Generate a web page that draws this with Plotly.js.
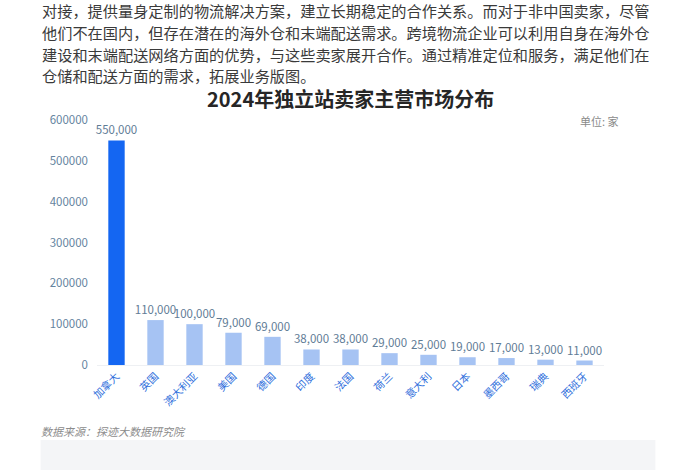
<!DOCTYPE html>
<html>
<head>
<meta charset="utf-8">
<script src="https://cdn.plot.ly/plotly-3.0.1.min.js"></script>
<style>
  html, body { margin: 0; padding: 0; background: #ffffff; }
  #chart { width: 700px; height: 470px; }
</style>
</head>
<body>
<div id="chart"></div>
<script>
const categories = ['加拿大', '英国', '澳大利亚', '美国', '德国', '印度', '法国', '荷兰', '意大利', '日本', '墨西哥', '瑞典', '西班牙'];
const sellers = [550000, 110000, 100000, 79000, 69000, 38000, 38000, 29000, 25000, 19000, 17000, 13000, 11000];
const yTicks = [0, 100000, 200000, 300000, 400000, 500000, 600000];
const paragraphLines = [
  '对接，提供量身定制的物流解决方案，建立长期稳定的合作关系。而对于非中国卖家，尽管',
  '他们不在国内，但存在潜在的海外仓和末端配送需求。跨境物流企业可以利用自身在海外仓',
  '建设和末端配送网络方面的优势，与这些卖家展开合作。通过精准定位和服务，满足他们在',
  '仓储和配送方面的需求，拓展业务版图。'
];
const chartTitle = '2024年独立站卖家主营市场分布';
const unitText = '单位: 家';
const sourceText = '数据来源：探迹大数据研究院';

const W = 700, H = 470;
const mL = 96.5, mR = 95.5, mT = 120, mB = 105;
const plotW = W - mL - mR, plotH = H - mT - mB;
const px = p => (p - mL) / plotW;
const py = p => (H - mB - p) / plotH;

const font = '"Noto Sans CJK SC", "Noto Sans", sans-serif';

const barColors = sellers.map((v, i) => i === 0 ? '#1466f2' : '#a6c3f3');

const annotations = [];
const lineY = [10.5, 32, 53.5, 75];
paragraphLines.forEach((t, i) => {
  annotations.push({
    text: t, xref: 'paper', yref: 'paper', x: px(40), y: py(lineY[i]),
    xanchor: 'left', yanchor: 'middle', showarrow: false, borderpad: 0,
    font: {family: font, size: 15.2, color: '#3a3a3a'}
  });
});
annotations.push({
  text: '<b>' + chartTitle + '</b>', xref: 'paper', yref: 'paper', x: px(350), y: py(98),
  xanchor: 'center', yanchor: 'middle', showarrow: false,
  font: {family: font, size: 20, color: '#262626'}
});
annotations.push({
  text: unitText, xref: 'paper', yref: 'paper', x: px(600), y: py(121),
  xanchor: 'center', yanchor: 'middle', showarrow: false,
  font: {family: font, size: 11, color: '#8a8a8a'}
});
annotations.push({
  text: '<i>' + sourceText + '</i>', xref: 'paper', yref: 'paper', x: px(38), y: py(431),
  xanchor: 'left', yanchor: 'middle', showarrow: false,
  font: {family: font, size: 11, color: '#8c8c8c'}
});

const data = [{
  type: 'bar',
  x: categories,
  y: sellers,
  marker: {color: barColors},
  width: 0.42,
  text: sellers,
  texttemplate: '%{y:,}',
  textposition: 'outside',
  constraintext: 'none',
  cliponaxis: false,
  textfont: {family: font, size: 11.5, color: '#5f7c96'},
  hoverinfo: 'x+y'
}];

const layout = {
  width: W, height: H,
  margin: {l: mL, r: mR, t: mT, b: mB, pad: 0},
  paper_bgcolor: '#ffffff',
  plot_bgcolor: '#ffffff',
  showlegend: false,
  font: {family: font},
  xaxis: {
    type: 'category',
    tickangle: -45,
    tickfont: {family: font, size: 10.5, color: '#2f6fdc'},
    showgrid: false, zeroline: false, showline: true, linecolor: '#eef0f3', linewidth: 1,
    ticks: ''
  },
  yaxis: {
    range: [0, 600000],
    tickvals: yTicks,
    ticktext: yTicks.map(v => String(v)),
    tickfont: {family: font, size: 11.5, color: '#6584a0'},
    showgrid: false, zeroline: false, showline: false,
    ticks: '', ticklabelstandoff: 8
  },
  shapes: [{
    type: 'rect', xref: 'paper', yref: 'paper',
    x0: px(40), x1: px(656), y0: py(470), y1: py(440),
    fillcolor: '#f4f5f7', line: {width: 0}, layer: 'below'
  }],
  annotations: annotations
};

Plotly.newPlot('chart', data, layout, {displayModeBar: false, staticPlot: true});
</script>
</body>
</html>
